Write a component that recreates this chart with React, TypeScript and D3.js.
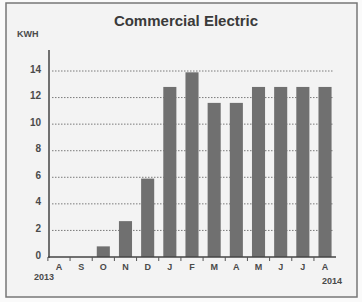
import React from 'react';
import * as d3 from 'd3';

const months = ['A', 'S', 'O', 'N', 'D', 'J', 'F', 'M', 'A', 'M', 'J', 'J', 'A'];
const kwh = [0, 0, 0.8, 2.7, 5.9, 12.8, 13.9, 11.6, 11.6, 12.8, 12.8, 12.8, 12.8];
const yTicks = [0, 2, 4, 6, 8, 10, 12, 14];
const years = ['2013', '2014'];

const W = 362;
const H = 302;
const margin = {top: 71, right: 26, bottom: 45, left: 48};

export default function App() {
  const keys = months.map((m, i) => i);
  const x = d3
    .scaleBand<number>()
    .domain(keys)
    .range([margin.left, W - margin.right])
    .paddingInner(0.41)
    .paddingOuter(0.2);
  const y = d3.scaleLinear().domain([0, 14]).range([H - margin.bottom, margin.top]);
  const base = y(0);
  const font = '"Liberation Sans", Arial, sans-serif';
  const ink = '#4a4a4a';

  return (
    <svg width={W} height={H} style={{position: 'absolute', left: 0, top: 0}}>
      <rect x={0} y={0} width={W} height={H} fill="#fafafa" />
      <rect x={6} y={3} width={351} height={294} fill="#f3f3f3" stroke="#777" strokeWidth={1.5} />
      <text x={186} y={26} textAnchor="middle" fontFamily={font} fontWeight="bold" fontSize={15} fill="#3a3a3a">
        Commercial Electric
      </text>
      <text x={17} y={37} fontFamily={font} fontWeight="bold" fontSize={9} fill={ink}>
        KWH
      </text>
      {yTicks.map(t => (
        <g key={t}>
          {t > 0 && (
            <line x1={52} x2={333} y1={y(t)} y2={y(t)} stroke="#7a7a7a" strokeWidth={1} strokeDasharray="1.5,1.5" />
          )}
          <text x={41} y={y(t) - 1} textAnchor="end" dominantBaseline="middle" fontFamily={font} fontWeight="bold" fontSize={10} fill={ink}>
            {t}
          </text>
        </g>
      ))}
      {keys.map(i => (
        <rect key={i} x={x(i)} y={y(kwh[i])} width={x.bandwidth()} height={base - y(kwh[i])} fill="#707070" />
      ))}
      <line x1={margin.left + 1} x2={margin.left + 1} y1={50} y2={base + 1} stroke="#444" strokeWidth={1.5} />
      <line x1={margin.left} x2={W - margin.right} y1={base} y2={base} stroke="#444" strokeWidth={1.5} />
      {keys.map(i => (
        <line
          key={'t' + i}
          x1={(x(i) as number) - (x.step() - x.bandwidth()) / 2}
          x2={(x(i) as number) - (x.step() - x.bandwidth()) / 2}
          y1={base}
          y2={base + 4}
          stroke="#555"
          strokeWidth={1}
        />
      ))}
      {keys.map(i => (
        <text
          key={'l' + i}
          x={(x(i) as number) + x.bandwidth() / 2}
          y={270}
          textAnchor="middle"
          fontFamily={font}
          fontWeight="bold"
          fontSize={9}
          fill={ink}
        >
          {months[i]}
        </text>
      ))}
      <text x={44} y={280} textAnchor="middle" fontFamily={font} fontWeight="bold" fontSize={9} fill={ink}>
        {years[0]}
      </text>
      <text x={332} y={284} textAnchor="middle" fontFamily={font} fontWeight="bold" fontSize={9} fill={ink}>
        {years[1]}
      </text>
    </svg>
  );
}
